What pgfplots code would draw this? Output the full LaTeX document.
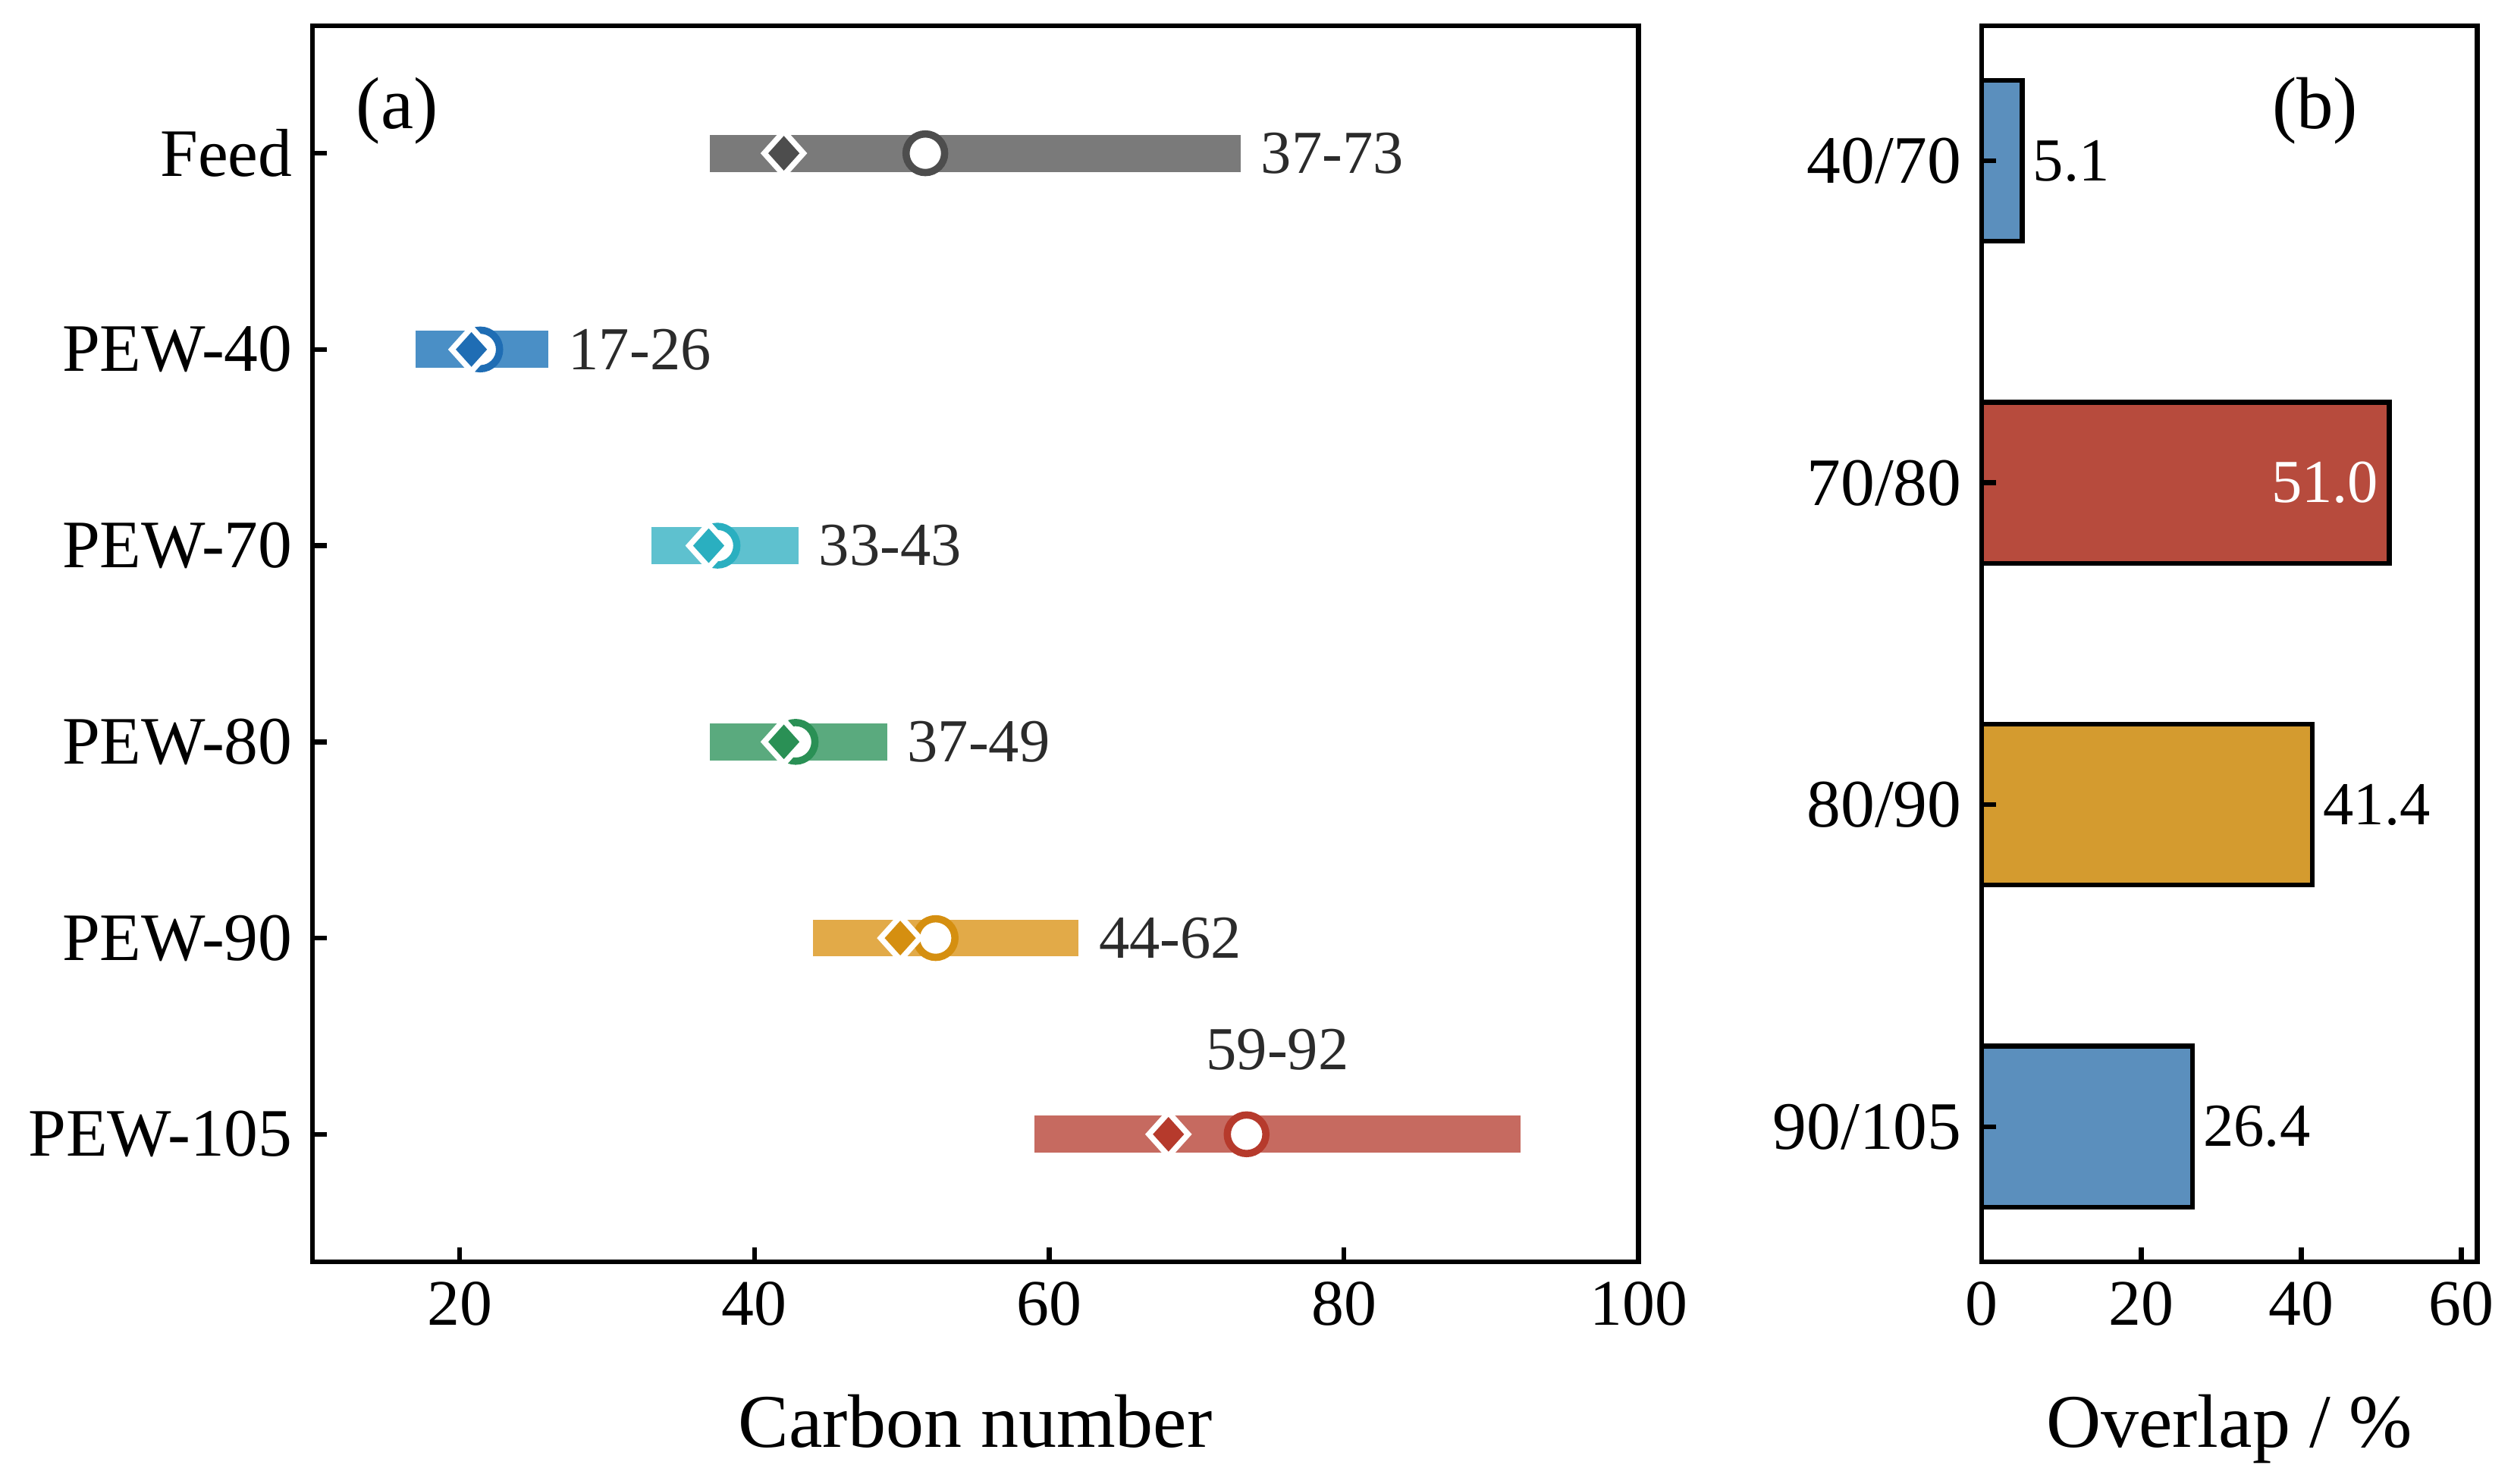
\documentclass[border=0pt]{standalone}
\usepackage{fontspec}
\setmainfont{Liberation Serif}
\usepackage{pgfplots}
\pgfplotsset{compat=1.18}
\definecolor{grayB}{HTML}{7A7A7A}
\definecolor{grayM}{HTML}{4D4D4D}
\definecolor{blueB}{HTML}{4A8FC6}
\definecolor{blueM}{HTML}{1F6DB4}
\definecolor{cyanB}{HTML}{5EC1CF}
\definecolor{cyanM}{HTML}{2AAFC0}
\definecolor{greenB}{HTML}{5AAA7E}
\definecolor{greenM}{HTML}{2A9055}
\definecolor{orangeB}{HTML}{E2AA48}
\definecolor{orangeM}{HTML}{D58F10}
\definecolor{redB}{HTML}{C66A60}
\definecolor{redM}{HTML}{B63A2C}
\definecolor{barBlue}{HTML}{5B8FBD}
\definecolor{barRed}{HTML}{B74B3D}
\definecolor{barOrange}{HTML}{D49B2F}
\definecolor{annot}{HTML}{2B2B2B}
\tikzset{
  lab/.style={anchor=west, inner xsep=1.2mm, text=annot, font=\fontsize{10.8}{12}\selectfont},
  blab/.style={anchor=west, inner xsep=0.6mm, text=black, font=\fontsize{10.8}{12}\selectfont},
}
\pgfplotsset{
  common/.style={
    scale only axis, anchor=south west, height=76.8mm,
    tick align=inside, xtick pos=bottom, ytick pos=left,
    major tick length=0.9mm,
    axis line style={line width=0.3mm},
    every tick/.style={black, line width=0.3mm},
    xticklabel style={font=\fontsize{11.5}{13}\selectfont},
    yticklabel style={font=\fontsize{12}{14}\selectfont},
    /pgf/number format/assume math mode=true,
    xlabel style={at={(axis description cs:0.5,0)}, anchor=base, yshift=-11.5mm, font=\fontsize{13.4}{16}\selectfont},
    clip=false, axis on top=true,
  },
  circ/.style={only marks, mark=*, mark size=1.2mm, mark options={draw=#1, fill=white, line width=0.45mm}},
  diam/.style={only marks, mark=diamond*, mark size=1.35mm, mark options={xscale=1.2, draw=white, fill=#1, line width=0.35mm}},
  rng/.style={line width=2.3mm, color=#1},
}
\begin{document}
\begin{tikzpicture}
\useasboundingbox (0,0) rectangle (156mm,92.2mm);
\begin{axis}[common,
  at={(19.4mm,13.8mm)}, width=82.4mm,
  xmin=10, xmax=100, ymin=-0.65, ymax=5.65,
  xtick={20,40,60,80,100},
  ytick={0,1,2,3,4,5},
  yticklabels={PEW-105,PEW-90,PEW-80,PEW-70,PEW-40,Feed},
  xlabel={Carbon number},
]
% Feed
\addplot[rng=grayB] coordinates {(37,5) (73,5)};
\addplot[circ=grayM] coordinates {(51.6,5)};
\addplot[diam=grayM] coordinates {(42,5)};
% PEW-40
\addplot[rng=blueB] coordinates {(17,4) (26,4)};
\addplot[circ=blueM] coordinates {(21.4,4)};
\addplot[diam=blueM] coordinates {(20.8,4)};
% PEW-70
\addplot[rng=cyanB] coordinates {(33,3) (43,3)};
\addplot[circ=cyanM] coordinates {(37.5,3)};
\addplot[diam=cyanM] coordinates {(36.9,3)};
% PEW-80
\addplot[rng=greenB] coordinates {(37,2) (49,2)};
\addplot[circ=greenM] coordinates {(42.8,2)};
\addplot[diam=greenM] coordinates {(42.0,2)};
% PEW-90
\addplot[rng=orangeB] coordinates {(44,1) (62,1)};
\addplot[circ=orangeM] coordinates {(52.3,1)};
\addplot[diam=orangeM] coordinates {(49.9,1)};
% PEW-105
\addplot[rng=redB] coordinates {(59,0) (92,0)};
\addplot[circ=redM] coordinates {(73.4,0)};
\addplot[diam=redM] coordinates {(68.1,0)};
\node[lab] at (axis cs:73,5) {37-73};
\node[lab] at (axis cs:26,4) {17-26};
\node[lab] at (axis cs:43,3) {33-43};
\node[lab] at (axis cs:49,2) {37-49};
\node[lab] at (axis cs:62,1) {44-62};
\node[lab, anchor=center] at (axis cs:75.5,0.43) {59-92};
\node[font=\fontsize{13}{15}\selectfont] at (rel axis cs:0.064,0.931) {(a)};
\end{axis}
\begin{axis}[common,
  at={(123.1mm,13.8mm)}, width=30.8mm,
  xmin=0, xmax=62, ymin=-0.42, ymax=3.42,
  xtick={0,20,40,60},
  ytick={0,1,2,3},
  yticklabels={90/105,80/90,70/80,40/70},
  xlabel={Overlap / \%},
]
\addplot[xbar, bar shift=0pt, bar width=0.5, fill=barBlue, draw=black, line width=0.3mm] coordinates {(5.1,3)};
\addplot[xbar, bar shift=0pt, bar width=0.5, fill=barRed, draw=black, line width=0.3mm] coordinates {(51.0,2)};
\addplot[xbar, bar shift=0pt, bar width=0.5, fill=barOrange, draw=black, line width=0.3mm] coordinates {(41.4,1)};
\addplot[xbar, bar shift=0pt, bar width=0.5, fill=barBlue, draw=black, line width=0.3mm] coordinates {(26.4,0)};
\node[blab] at (axis cs:5.1,3) {5.1};
\node[blab, anchor=east, text=white] at (axis cs:51.0,2) {51.0};
\node[blab] at (axis cs:41.4,1) {41.4};
\node[blab] at (axis cs:26.4,0) {26.4};
\node[font=\fontsize{13}{15}\selectfont] at (rel axis cs:0.673,0.931) {(b)};
\end{axis}
\end{tikzpicture}
\end{document}
